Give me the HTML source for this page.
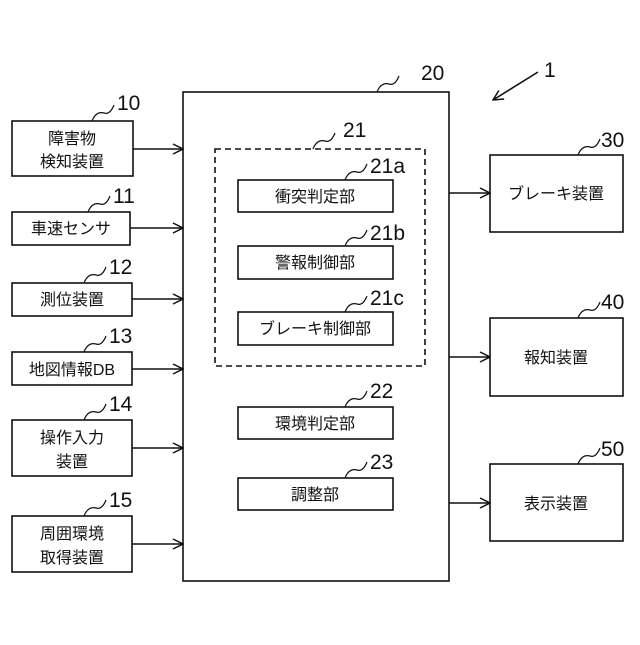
<!DOCTYPE html>
<html><head><meta charset="utf-8"><style>
body{margin:0;background:#fff}
svg text{font-family:"Liberation Sans","Noto Sans CJK JP",sans-serif;fill:#111}
</style></head><body>
<svg width="640" height="640" viewBox="0 0 640 640" xmlns="http://www.w3.org/2000/svg">
<defs><marker id="a" markerWidth="12" markerHeight="12" refX="11" refY="6" orient="auto" markerUnits="userSpaceOnUse"><path d="M1,1 L11,6 L1,11" fill="none" stroke="#111" stroke-width="1.5"/></marker></defs>
<g fill="none" stroke="#111" stroke-width="1.6">
<rect x="183" y="92" width="266" height="489"/>
<rect x="215" y="149" width="210" height="217" stroke-dasharray="6,4"/>
<rect x="238" y="180" width="155" height="32"/>
<rect x="238" y="246" width="155" height="33"/>
<rect x="238" y="312" width="155" height="33"/>
<rect x="238" y="407" width="155" height="32"/>
<rect x="238" y="478" width="155" height="32"/>
<rect x="12" y="121" width="121" height="55"/>
<rect x="12" y="212" width="118" height="33"/>
<rect x="12" y="283" width="120" height="33"/>
<rect x="12" y="352" width="120" height="33"/>
<rect x="12" y="420" width="120" height="56"/>
<rect x="12" y="516" width="120" height="56"/>
<rect x="490" y="155" width="133" height="77"/>
<rect x="490" y="318" width="133" height="78"/>
<rect x="490" y="464" width="133" height="77"/>
<path d="M133,149 H183" marker-end="url(#a)"/>
<path d="M130,228 H183" marker-end="url(#a)"/>
<path d="M132,299 H183" marker-end="url(#a)"/>
<path d="M132,369 H183" marker-end="url(#a)"/>
<path d="M132,448 H183" marker-end="url(#a)"/>
<path d="M132,544 H183" marker-end="url(#a)"/>
<path d="M449,193 H490" marker-end="url(#a)"/>
<path d="M449,357 H490" marker-end="url(#a)"/>
<path d="M449,503 H490" marker-end="url(#a)"/>
<path d="M538,72 L493,100" marker-end="url(#a)"/>
<g stroke-width="1.2">
<path d="M92,121 q4,-10 12,-8 q6,2 10,-8"/>
<path d="M88,212 q4,-10 12,-8 q6,2 10,-8"/>
<path d="M84,283 q4,-10 12,-8 q6,2 10,-8"/>
<path d="M84,352 q4,-10 12,-8 q6,2 10,-8"/>
<path d="M84,420 q4,-10 12,-8 q6,2 10,-8"/>
<path d="M84,516 q4,-10 12,-8 q6,2 10,-8"/>
<path d="M377,92 q4,-10 12,-8 q6,2 10,-8"/>
<path d="M313,149 q4,-10 12,-8 q6,2 10,-8"/>
<path d="M345,180 q4,-10 12,-8 q6,2 10,-8"/>
<path d="M345,246 q4,-10 12,-8 q6,2 10,-8"/>
<path d="M345,312 q4,-10 12,-8 q6,2 10,-8"/>
<path d="M345,407 q4,-10 12,-8 q6,2 10,-8"/>
<path d="M345,478 q4,-10 12,-8 q6,2 10,-8"/>
<path d="M578,155 q4,-10 12,-8 q6,2 10,-8"/>
<path d="M578,318 q4,-10 12,-8 q6,2 10,-8"/>
<path d="M578,464 q4,-10 12,-8 q6,2 10,-8"/>
</g></g>
<g font-size="21">
<text x="117" y="110">10</text><text x="113" y="203">11</text><text x="109" y="274">12</text>
<text x="109" y="343">13</text><text x="109" y="411">14</text><text x="109" y="507">15</text>
<text x="421" y="80">20</text><text x="343" y="137">21</text>
<text x="370" y="173">21a</text><text x="370" y="240">21b</text><text x="370" y="305">21c</text>
<text x="370" y="398">22</text><text x="370" y="469">23</text>
<text x="601" y="147">30</text><text x="601" y="309">40</text><text x="601" y="456">50</text>
<text x="544" y="77">1</text>
</g>
<g font-size="16" text-anchor="middle">
<text x="72" y="144">障害物</text><text x="72" y="167">検知装置</text>
<text x="71" y="234">車速センサ</text><text x="72" y="305">測位装置</text>
<text x="72" y="375">地図情報DB</text>
<text x="72" y="443">操作入力</text><text x="72" y="467">装置</text>
<text x="72" y="539">周囲環境</text><text x="72" y="563">取得装置</text>
<text x="315" y="202">衝突判定部</text><text x="315" y="268">警報制御部</text>
<text x="315" y="334">ブレーキ制御部</text><text x="315" y="429">環境判定部</text>
<text x="315" y="500">調整部</text>
<text x="556" y="199">ブレーキ装置</text><text x="556" y="363">報知装置</text><text x="556" y="509">表示装置</text>
</g>
</svg>
</body></html>
